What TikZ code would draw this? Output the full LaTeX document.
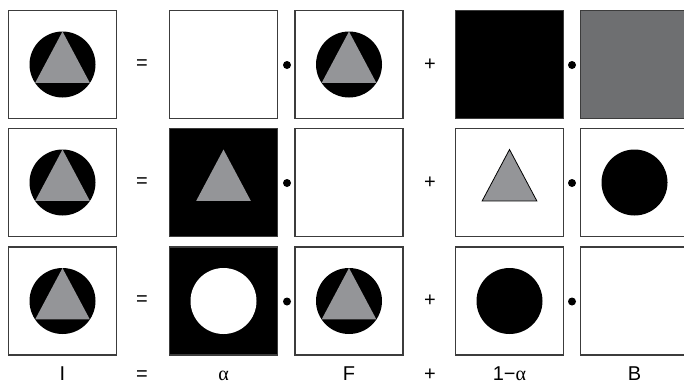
\documentclass[tikz,border=0pt]{standalone}
\usepackage{fontspec}
\setmainfont{Liberation Sans}
\newfontfamily\greekfont{Liberation Serif}
\definecolor{framegray}{HTML}{3C3C3C}
\definecolor{trigray}{HTML}{949598}
\definecolor{bggray}{HTML}{6E6F71}
\begin{document}
\begin{tikzpicture}[x=1pt,y=-1pt,
  panel/.style={draw=framegray,line width=1.1pt,minimum size=108pt,inner sep=0pt,outer sep=0pt,fill=white},
  blackpanel/.style={panel,fill=black},
  graypanel/.style={panel,fill=bggray},
  op/.style={font=\fontsize{20}{22}\selectfont,inner sep=0pt},
  lbl/.style={font=\fontsize{20}{22}\selectfont,inner sep=0pt,anchor=base,text depth=0pt},
  mdot/.style={circle,fill=black,minimum size=8pt,inner sep=0pt},
  cirtri/.pic={\fill[black] (0,0) circle (33);
               \fill[trigray] (270:33) -- (146:33) -- (34:33) -- cycle;},
  tri/.pic={\filldraw[fill=trigray,draw=black,line width=0.8pt] (270:33) -- (146:33) -- (34:33) -- cycle;}]
\useasboundingbox (0,0) rectangle (684,384);
% row 1
\node[panel] (I1) at (62.5,64.5) {};
\pic at (I1.center) {cirtri};
\node[op] (eq1) at (142,64.5) {=};
\node[panel] (A1) at (223.5,64.5) {};
\node[mdot] (d11) at (287,65) {};
\node[panel] (F1) at (349,64.5) {};
\pic at (F1.center) {cirtri};
\node[op] (p1) at (430,64.5) {+};
\node[blackpanel] (N1) at (509.5,64.5) {};
\node[mdot] (d12) at (572,65) {};
\node[graypanel] (B1) at (634.5,64.5) {};
% row 2
\node[panel] (I2) at (62.5,182.5) {};
\pic at (I2.center) {cirtri};
\node[op] (eq2) at (142,182.5) {=};
\node[blackpanel] (A2) at (223.5,182.5) {};
\fill[trigray] ([shift={(270:33)}]A2.center) -- ([shift={(146:33)}]A2.center) -- ([shift={(34:33)}]A2.center) -- cycle;
\node[mdot] (d21) at (287,183) {};
\node[panel] (F2) at (349,182.5) {};
\node[op] (p2) at (430,182.5) {+};
\node[panel] (N2) at (509.5,182.5) {};
\pic at (N2.center) {tri};
\node[mdot] (d22) at (572,183) {};
\node[panel] (B2) at (634.5,182.5) {};
\fill[black] (B2.center) circle (33);
% row 3
\node[panel] (I3) at (62.5,301) {};
\pic at (I3.center) {cirtri};
\node[op] (eq3) at (142,301) {=};
\node[blackpanel] (A3) at (223.5,301) {};
\fill[white] (A3.center) circle (33);
\node[mdot] (d31) at (287,301.5) {};
\node[panel] (F3) at (349,301) {};
\pic at (F3.center) {cirtri};
\node[op] (p3) at (430,301) {+};
\node[panel] (N3) at (509.5,301) {};
\fill[black] (N3.center) circle (33);
\node[mdot] (d32) at (572,301.5) {};
\node[panel] (B3) at (634.5,301) {};
% labels
\node[lbl] (lI) at (62.5,380) {I};
\node[lbl] (leq) at (142,380) {=};
\node[lbl] (lA) at (223.5,380) {{\greekfont α}};
\node[lbl] (lF) at (349,380) {F};
\node[lbl] (lp) at (430,380) {+};
\node[lbl] (lN) at (509.5,380) {1−{\greekfont α}};
\node[lbl] (lB) at (634.5,380) {B};
\end{tikzpicture}
\end{document}
